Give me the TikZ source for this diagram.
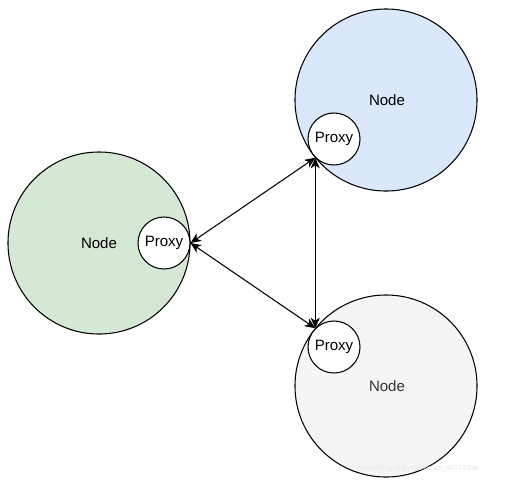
\documentclass[tikz,border=0pt]{standalone}
\usepackage{fontspec}
\setmainfont{Liberation Sans}
\usetikzlibrary{arrows.meta, positioning}
\definecolor{ndgreen}{HTML}{D5E8D4}
\definecolor{ndblue}{HTML}{DAE8FC}
\definecolor{ndgray}{HTML}{F5F5F5}
\definecolor{dkgray}{HTML}{333333}
\definecolor{wmark}{HTML}{E6E6E6}

\begin{document}
\begin{tikzpicture}[x=0.025cm, y=-0.025cm, line width=0.75pt,
    >={Stealth[length=7.5pt, width=6.5pt, inset=2.2pt]},
    bignode/.style={draw=black, circle, minimum size=4.55cm, inner sep=0pt,
      font=\fontsize{10.7}{12}\selectfont},
    proxynode/.style={draw=black, fill=white, circle, minimum size=1.3cm,
      inner sep=0pt, font=\fontsize{10.7}{12}\selectfont},
    link/.style={<->, black, line width=0.75pt}]

% Background
\useasboundingbox (0,0) rectangle (506,496);
\fill[white] (0,0) rectangle (506,496);

% Left node (green)
\node[bignode, fill=ndgreen] (left) at (99,243) {Node};
\node[proxynode] (leftproxy) at (164,243) {Proxy};

% Top node (blue)
\node[bignode, fill=ndblue] (top) at (386,100) {};
\node at (387,100) [font=\fontsize{10.7}{12}\selectfont] (toplabel) {Node};
\node[proxynode] (topproxy) at (334,139) {Proxy};

% Bottom node (gray)
\node[bignode, fill=ndgray] (bottom) at (386,386) {};
\node at (387,386) [font=\fontsize{10.7}{12}\selectfont, text=dkgray] (bottomlabel) {Node};
\node[proxynode] (bottomproxy) at (334,347) {Proxy};

% Links between proxies
\draw[link] (leftproxy.east) -- (topproxy.south west);
\draw[link] (leftproxy.east) -- (bottomproxy.north west);
\draw[link] (topproxy.south west) -- (bottomproxy.north west);

% Watermark
\node[text=wmark, font=\fontsize{5}{6}\selectfont] (wm) at (418,469)
  {https://blog.csdn.net/weixin\_44774358};

\end{tikzpicture}
\end{document}
